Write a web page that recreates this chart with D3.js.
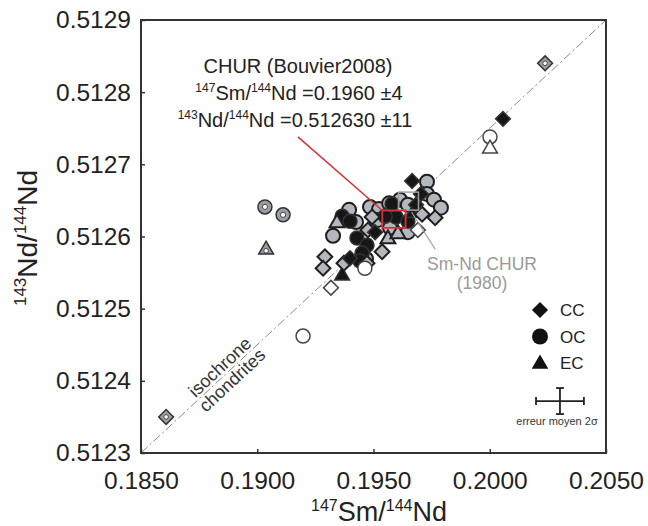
<!DOCTYPE html>
<html>
<head>
<meta charset="utf-8">
<script src="https://cdn.jsdelivr.net/npm/d3@7"></script>
<style>
body { margin: 0; background: #fff; }
text { font-family: "Liberation Sans", Arial, sans-serif; }
</style>
</head>
<body>
<div id="chart"></div>
<script>
var WIDTH = 648;
var HEIGHT = 526;

// axis ticks
var xTicks = [0.185, 0.190, 0.195, 0.200, 0.205];
var yTicks = [0.5123, 0.5124, 0.5125, 0.5126, 0.5127, 0.5128, 0.5129];

// [147Sm/144Nd, 143Nd/144Nd]
var ccBlack = [[0.20057, 0.512763], [0.19666, 0.512677], [0.19704, 0.512659], [0.19683, 0.512644],
	[0.19507, 0.512606], [0.19399, 0.51257]];
var ccGray = [[0.19291, 0.512572], [0.19283, 0.512556], [0.19373, 0.512563], [0.19472, 0.512563],
	[0.19494, 0.512627], [0.19476, 0.512609], [0.19765, 0.512626], [0.19709, 0.512631], [0.19537, 0.512579]];
var ccOpen = [[0.19317, 0.512529], [0.19691, 0.512609]];
var ccDouble = [[0.20238, 0.51284], [0.18608, 0.51235]];

var ocBlack = [[0.19365, 0.512628], [0.19399, 0.512621], [0.19429, 0.512598], [0.19472, 0.512588],
	[0.19451, 0.512577], [0.19442, 0.512566], [0.1958, 0.512645], [0.19597, 0.512627],
	[0.19648, 0.512621], [0.1955, 0.512628]];
var ocGray = [[0.19326, 0.512601], [0.19395, 0.512637], [0.19425, 0.51262], [0.19485, 0.512641],
	[0.19524, 0.512638], [0.19519, 0.512623], [0.19567, 0.512646], [0.19614, 0.512651],
	[0.19648, 0.512644], [0.1973, 0.512676], [0.1973, 0.512659], [0.1976, 0.512651],
	[0.1979, 0.51264], [0.19648, 0.512606], [0.19468, 0.512569], [0.19571, 0.512612]];
var ocOpen = [[0.19463, 0.512556], [0.19197, 0.512462], [0.20001, 0.512738]];
var ocDouble = [[0.19033, 0.512641], [0.19111, 0.51263]];

var ecBlack = [[0.19365, 0.512547], [0.1967, 0.512634]];
var ecGray = [[0.19343, 0.51262], [0.19562, 0.512598], [0.19605, 0.512605]];
var ecOpen = [[0.20001, 0.512723]];
var ecDouble = [[0.19038, 0.512583]];

// CHUR boxes: [x, y, half width x, half width y]
var churBouvier = [0.19588, 0.512624, 0.0005, 0.000012];
var churOld = [0.196505, 0.512649, 0.00043, 0.0000125];
var isochrone = [[0.185, 0.5123], [0.205, 0.5129]];
var meanError = [0.00103, 0.000018];

var margin = {top: 20, right: 42, bottom: 73, left: 141};
var w = WIDTH - margin.left - margin.right;
var h = HEIGHT - margin.top - margin.bottom;

var svg = d3.select("#chart").append("svg")
	.attr("width", WIDTH)
	.attr("height", HEIGHT);
var g = svg.append("g").attr("transform", "translate(" + margin.left + "," + margin.top + ")");

var x = d3.scaleLinear().domain([0.185, 0.205]).range([0, w]);
var y = d3.scaleLinear().domain([0.5123, 0.5129]).range([h, 0]);

// axes
var xAxis = g.append("g").attr("transform", "translate(0," + h + ")")
	.call(d3.axisBottom(x).tickValues(xTicks).tickFormat(d3.format(".4f")).tickSize(-4).tickPadding(19));
var yAxis = g.append("g")
	.call(d3.axisLeft(y).tickValues(yTicks).tickFormat(d3.format(".4f")).tickSize(-4).tickPadding(10));
[xAxis, yAxis].forEach(function (a) {
	a.select(".domain").remove();
	a.selectAll(".tick line").attr("stroke", "#333").attr("stroke-width", 1.5);
	a.selectAll("text").attr("font-size", 24.5).attr("fill", "#222")
		.style("font-family", "'Liberation Sans', Arial, sans-serif");
});

// isochrone line
var line = d3.line().x(function (d) { return x(d[0]); }).y(function (d) { return y(d[1]); });
g.append("path").datum(isochrone)
	.attr("d", line)
	.attr("fill", "none")
	.attr("stroke", "#8a8a8a")
	.attr("stroke-width", 1)
	.attr("stroke-dasharray", "9,3,2,3");

// isochrone label, rotated along the line
var ang = Math.atan2(y(isochrone[0][1]) - y(isochrone[1][1]), x(isochrone[1][0]) - x(isochrone[0][0])) * 180 / Math.PI;
var lx = 0.18866;
var ly = isochrone[0][1] + (lx - isochrone[0][0]) * (isochrone[1][1] - isochrone[0][1]) / (isochrone[1][0] - isochrone[0][0]);
var lab = g.append("g").attr("transform", "translate(" + x(lx) + "," + y(ly) + ") rotate(" + (-ang) + ")");
lab.append("text").attr("y", -3).attr("text-anchor", "middle").attr("font-size", 18).attr("fill", "#333").text("isochrone");
lab.append("text").attr("y", 15).attr("text-anchor", "middle").attr("font-size", 18).attr("fill", "#333").text("chondrites");

// markers
var diamond = d3.symbol().type(d3.symbolSquare).size(110);
var tri = d3.symbol().type(d3.symbolTriangle).size(95);
var styles = {
	black: {fill: "#161616", stroke: "#333", sw: 1.5},
	gray: {fill: "#b3b7be", stroke: "#1e1e1e", sw: 2},
	open: {fill: "#fff", stroke: "#444", sw: 1.5},
	double: {fill: "#9a9da3", stroke: "#333", sw: 1.5}
};

function drawMarks(pts, shape, style) {
	var s = styles[style];
	var sel = g.append("g").selectAll("g").data(pts).enter().append("g")
		.attr("transform", function (d) { return "translate(" + x(d[0]) + "," + y(d[1]) + ")"; });
	var m;
	if (shape == "circle") {
		m = sel.append("circle").attr("r", 7);
	} else if (shape == "diamond") {
		m = sel.append("path").attr("d", diamond).attr("transform", "rotate(45)");
	} else {
		m = sel.append("path").attr("d", tri).attr("transform", "translate(0,1)");
	}
	m.attr("fill", s.fill).attr("stroke", s.stroke).attr("stroke-width", s.sw);
	if (style == "double") {
		sel.append("circle").attr("r", shape == "circle" ? 2.6 : 2.3)
			.attr("cy", shape == "triangle" ? 2 : 0)
			.attr("fill", "#fff").attr("stroke", "#444").attr("stroke-width", 1);
	}
}

drawMarks(ocGray, "circle", "gray");
drawMarks(ocBlack, "circle", "black");
drawMarks(ecGray, "triangle", "gray");
drawMarks(ecBlack, "triangle", "black");
drawMarks(ccGray, "diamond", "gray");
drawMarks(ccBlack, "diamond", "black");
drawMarks(ocOpen, "circle", "open");
drawMarks(ecOpen, "triangle", "open");
drawMarks(ccOpen, "diamond", "open");
drawMarks(ocDouble, "circle", "double");
drawMarks(ecDouble, "triangle", "double");
drawMarks(ccDouble, "diamond", "double");

// CHUR boxes
function box(b, color, sw) {
	g.append("rect")
		.attr("x", x(b[0] - b[2])).attr("y", y(b[1] + b[3]))
		.attr("width", x(b[0] + b[2]) - x(b[0] - b[2]))
		.attr("height", y(b[1] - b[3]) - y(b[1] + b[3]))
		.attr("fill", "none").attr("stroke", color).attr("stroke-width", sw);
}
box(churOld, "#a0a0a0", 1.5);
box(churBouvier, "#d9303a", 1.8);

// leader lines
g.append("line")
	.attr("x1", x(0.19175)).attr("y1", y(0.512738))
	.attr("x2", x(churBouvier[0] - churBouvier[2])).attr("y2", y(churBouvier[1] + churBouvier[3]))
	.attr("stroke", "#d9303a").attr("stroke-width", 1.5);
g.append("line")
	.attr("x1", x(churOld[0] + churOld[2] * 0.3)).attr("y1", y(churOld[1] - churOld[3] * 1.2))
	.attr("x2", x(0.19766)).attr("y2", y(0.512582))
	.attr("stroke", "#a0a0a0").attr("stroke-width", 1.2);

// frame
g.append("rect").attr("width", w).attr("height", h)
	.attr("fill", "none").attr("stroke", "#333").attr("stroke-width", 2);

// annotation text
function supText(parent, parts, size, supSize, rise) {
	parts.forEach(function (p) {
		if (p[1]) {
			parent.append("tspan").attr("font-size", supSize).attr("dy", -rise).text(p[0]);
		} else {
			parent.append("tspan").attr("font-size", size).attr("dy", p[2] ? rise : 0).text(p[0]);
		}
	});
}
svg.append("text").attr("x", 298).attr("y", 73).attr("text-anchor", "middle")
	.attr("font-size", 20).attr("fill", "#222").text("CHUR (Bouvier2008)");
var t2 = svg.append("text").attr("x", 299).attr("y", 100).attr("text-anchor", "middle").attr("fill", "#222");
supText(t2, [["147", 1], ["Sm/", 0, 1], ["144", 1], ["Nd =0.1960 \u00b14", 0, 1]], 20, 12, 8);
var t3 = svg.append("text").attr("x", 295).attr("y", 127).attr("text-anchor", "middle").attr("fill", "#222");
supText(t3, [["143", 1], ["Nd/", 0, 1], ["144", 1], ["Nd =0.512630 \u00b111", 0, 1]], 20, 12, 8);

svg.append("text").attr("x", 482).attr("y", 270).attr("text-anchor", "middle")
	.attr("font-size", 17.5).attr("fill", "#9a9a9a").text("Sm-Nd CHUR");
svg.append("text").attr("x", 482).attr("y", 289).attr("text-anchor", "middle")
	.attr("font-size", 17.5).attr("fill", "#9a9a9a").text("(1980)");

// axis titles
var xt = svg.append("text").attr("x", 379).attr("y", 521).attr("text-anchor", "middle").attr("fill", "#222");
supText(xt, [["147", 1], ["Sm/", 0, 1], ["144", 1], ["Nd", 0, 1]], 27, 16, 10);
var yt = svg.append("text").attr("transform", "translate(37,238) rotate(-90)").attr("text-anchor", "middle").attr("fill", "#222");
supText(yt, [["143", 1], ["Nd/", 0, 1], ["144", 1], ["Nd", 0, 1]], 28, 17, 11);

// legend
var legend = [["CC", "diamond"], ["OC", "circle"], ["EC", "triangle"]];
legend.forEach(function (l, i) {
	var lg = svg.append("g").attr("transform", "translate(540," + (310 + i * 26.5) + ")");
	if (l[1] == "diamond") lg.append("path").attr("d", d3.symbol().type(d3.symbolSquare).size(130)).attr("transform", "rotate(45)").attr("fill", "#111");
	else if (l[1] == "circle") lg.append("circle").attr("r", 8).attr("fill", "#111");
	else lg.append("path").attr("d", d3.symbol().type(d3.symbolTriangle).size(120)).attr("transform", "translate(0,1)").attr("fill", "#111");
	lg.append("text").attr("x", 20).attr("y", 6).attr("font-size", 17).attr("fill", "#222").text(l[0]);
});

// mean error cross
var ex0 = 0.20302, ey0 = 0.512372;
var cross = g.append("g").attr("stroke", "#222").attr("stroke-width", 1.8);
cross.append("line").attr("x1", x(ex0 - meanError[0])).attr("x2", x(ex0 + meanError[0])).attr("y1", y(ey0)).attr("y2", y(ey0));
cross.append("line").attr("x1", x(ex0)).attr("x2", x(ex0)).attr("y1", y(ey0 - meanError[1])).attr("y2", y(ey0 + meanError[1]));
[-1, 1].forEach(function (s) {
	cross.append("line").attr("x1", x(ex0 + s * meanError[0])).attr("x2", x(ex0 + s * meanError[0]))
		.attr("y1", y(ey0) - 4).attr("y2", y(ey0) + 4);
	cross.append("line").attr("x1", x(ex0) - 4).attr("x2", x(ex0) + 4)
		.attr("y1", y(ey0 + s * meanError[1])).attr("y2", y(ey0 + s * meanError[1]));
});
svg.append("text").attr("x", 557).attr("y", 425).attr("text-anchor", "middle")
	.attr("font-size", 11).attr("fill", "#333").text("erreur moyen 2\u03c3");
</script>
</body>
</html>
